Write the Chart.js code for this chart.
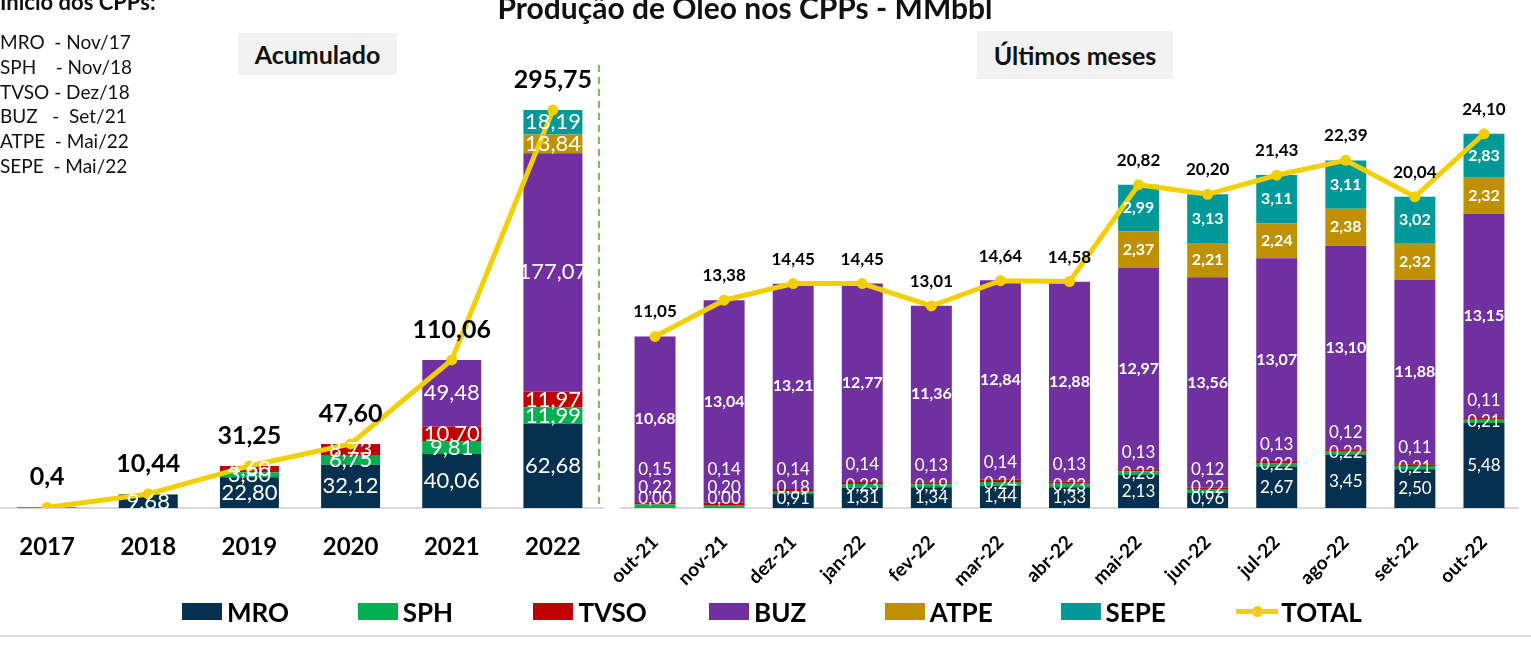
<!DOCTYPE html>
<html lang="pt-BR">
<head>
<meta charset="utf-8">
<title>Produção de Óleo nos CPPs - MMbbl</title>
<script src="https://cdn.jsdelivr.net/npm/chart.js@4.4.1/dist/chart.umd.min.js"></script>
<style>
  body { margin: 0; background: #fff; font-family: Lato, "Open Sans", sans-serif; }
  #page { position: relative; width: 1531px; height: 659px; overflow: hidden; }
  canvas { position: absolute; top: 0; }
  #cLeft { left: -9px; }
  #cRight { left: 560px; }
  #title { position: absolute; left: 0; width: 1490px; top: -8px; text-align: center;
           font-weight: bold; font-size: 30px; line-height: 30px; color: #111; }
  #inicio { position: absolute; left: 0; top: -10px; font-weight: bold; font-size: 22px; line-height: 24px; color: #111; }
  #startList { position: absolute; left: 0; top: 30px; font-size: 19px; line-height: 24.8px; color: #111; white-space: pre; }
  .box { position: absolute; background: #f2f2f2; font-weight: bold; font-size: 25px; color: #111;
         text-align: center; }
  #boxAcum { left: 238px; top: 33px; width: 159px; height: 42px; line-height: 42px; }
  #boxMeses { left: 977px; top: 31px; width: 196px; height: 48px; line-height: 48px; }
  .leg { position: absolute; top: 597px; height: 30px; font-weight: bold; font-size: 26px; line-height: 30px; color: #000; }
  .leg .sw { position: absolute; left: 0; top: 6px; width: 40px; height: 17px; }
  .leg .ln { position: absolute; left: 0; top: 12px; width: 42px; height: 5px; background: #F4CF00; }
  .leg .dot { position: absolute; left: 16px; top: 9px; width: 11px; height: 11px; border-radius: 50%; background: #F4CF00; }
  .leg .tx { position: absolute; left: 45px; top: 0; white-space: nowrap; }
  #bottomLine { position: absolute; left: 0; top: 635px; width: 1531px; height: 2px; background: #d9d9d9; }
</style>
</head>
<body>
<div id="page">
  <canvas id="cLeft" width="618" height="659"></canvas>
  <canvas id="cRight" width="971" height="659"></canvas>
  <div id="title">Produção de Óleo nos CPPs - MMbbl</div>
  <div id="inicio">Início dos CPPs:</div>
  <div id="startList"></div>
  <div class="box" id="boxAcum">Acumulado</div>
  <div class="box" id="boxMeses">Últimos meses</div>
  <div id="legend"></div>
  <div id="bottomLine"></div>
</div>
<script>
// --- dados ---
var seriesNames = ['MRO', 'SPH', 'TVSO', 'BUZ', 'ATPE', 'SEPE'];
var seriesColors = ['#05304F', '#00B050', '#C00000', '#7030A0', '#BF9000', '#00999A'];
var totalColor = '#F4CF00';

var startNames = ['MRO  ', 'SPH    ', 'TVSO ', 'BUZ   ', 'ATPE  ', 'SEPE  '];
var startDates = ['- Nov/17', '- Nov/18', '- Dez/18', '-  Set/21', '- Mai/22', '- Mai/22'];

// acumulado por ano
var years = ['2017', '2018', '2019', '2020', '2021', '2022'];
var acumMRO  = [0.4, 9.68, 22.80, 32.12, 40.06, 62.68];
var acumSPH  = [null, 0.42, 3.80, 6.75, 9.81, 11.99];
var acumTVSO = [null, 0.34, 4.60, 8.73, 10.70, 11.97];
var acumBUZ  = [null, null, null, null, 49.48, 177.07];
var acumATPE = [null, null, null, null, null, 13.84];
var acumSEPE = [null, null, null, null, null, 18.19];
var acumTotal = [0.4, 10.44, 31.25, 47.60, 110.06, 295.75];

// ultimos meses
var months = ['out-21', 'nov-21', 'dez-21', 'jan-22', 'fev-22', 'mar-22', 'abr-22',
              'mai-22', 'jun-22', 'jul-22', 'ago-22', 'set-22', 'out-22'];
var mesMRO  = [0.00, 0.00, 0.91, 1.31, 1.34, 1.44, 1.33, 2.13, 0.96, 2.67, 3.45, 2.50, 5.48];
var mesSPH  = [0.22, 0.20, 0.18, 0.23, 0.19, 0.24, 0.23, 0.23, 0.22, 0.22, 0.22, 0.21, 0.21];
var mesTVSO = [0.15, 0.14, 0.14, 0.14, 0.13, 0.14, 0.13, 0.13, 0.12, 0.13, 0.12, 0.11, 0.11];
var mesBUZ  = [10.68, 13.04, 13.21, 12.77, 11.36, 12.84, 12.88, 12.97, 13.56, 13.07, 13.10, 11.88, 13.15];
var mesATPE = [null, null, null, null, null, null, null, 2.37, 2.21, 2.24, 2.38, 2.32, 2.32];
var mesSEPE = [null, null, null, null, null, null, null, 2.99, 3.13, 3.11, 3.11, 3.02, 2.83];
var mesTotal = [11.05, 13.38, 14.45, 14.45, 13.01, 14.64, 14.58, 20.82, 20.20, 21.43, 22.39, 20.04, 24.10];

// --- textos fora do grafico ---
document.getElementById('startList').textContent =
  startNames.map(function(n, i) { return n + startDates[i]; }).join('\n');

var legend = document.getElementById('legend');
seriesNames.concat(['TOTAL']).forEach(function(name, i) {
  var d = document.createElement('div');
  d.className = 'leg';
  d.style.left = (182 + i * 175.7) + 'px';
  if (name === 'TOTAL') {
    d.innerHTML = '<span class="ln"></span><span class="dot"></span><span class="tx">' + name + '</span>';
  } else {
    d.innerHTML = '<span class="sw" style="background:' + seriesColors[i] + '"></span><span class="tx">' + name + '</span>';
  }
  legend.appendChild(d);
});

function fmt(v, dec) {
  return v.toFixed(dec).replace('.', ',');
}

// rotulos das barras e do total
function makeLabels(cfg) {
  return {
    id: 'segLabels',
    afterDatasetsDraw: function(chart) {
      var ctx = chart.ctx;
      var base = chart.scales.y.getPixelForValue(0);
      var lastY = [];
      ctx.save();
      ctx.textAlign = 'center';
      chart.data.datasets.forEach(function(ds, di) {
        var meta = chart.getDatasetMeta(di);
        if (ds.type === 'line') {
          ctx.font = cfg.totalFont;
          ctx.fillStyle = '#000';
          ctx.textBaseline = 'alphabetic';
          meta.data.forEach(function(pt, i) {
            var v = ds.data[i];
            ctx.fillText(fmt(v, v < 1 ? 1 : 2), pt.x, pt.y - cfg.totalGap);
          });
          return;
        }
        var rule = cfg.rules[ds.label] || 'center';
        ctx.font = cfg.fonts[ds.label] || cfg.font;
        ctx.fillStyle = '#fff';
        ctx.textBaseline = 'middle';
        meta.data.forEach(function(bar, i) {
          var v = ds.data[i];
          if (v == null || v < cfg.minValue) return;
          var c = (bar.y + bar.base) / 2;
          var y = c;
          if (rule === 'floor') y = Math.min(c, base - 9);
          else if (rule === 'stackUp') y = Math.min(c, lastY[i] - 11);
          else if (rule === 'lift') y = Math.min(c - 18, lastY[i] - 18);
          lastY[i] = y;
          ctx.fillText(fmt(v, 2), bar.x, y);
        });
      });
      ctx.restore();
      if (cfg.separatorX) {
        ctx.save();
        ctx.strokeStyle = '#7DBF55';
        ctx.lineWidth = 2;
        ctx.setLineDash([7, 5]);
        ctx.beginPath();
        ctx.moveTo(cfg.separatorX, 65);
        ctx.lineTo(cfg.separatorX, base);
        ctx.stroke();
        ctx.restore();
      }
    }
  };
}

function buildDatasets(parts, total, barPct) {
  var ds = seriesNames.map(function(name, i) {
    return {
      type: 'bar', label: name, data: parts[i], backgroundColor: seriesColors[i],
      borderWidth: 0, stack: 'cpp', order: 1,
      barPercentage: barPct, categoryPercentage: 1
    };
  });
  ds.push({
    type: 'line', label: 'TOTAL', data: total, stack: 'total', order: 0,
    borderColor: totalColor, backgroundColor: totalColor, borderWidth: 5,
    pointRadius: 5.5, pointBorderWidth: 0, pointBackgroundColor: totalColor,
    tension: 0, fill: false
  });
  return ds;
}

function baseOptions(yMax, tickFont, tickPad, rotation, pad) {
  return {
    responsive: false,
    animation: false,
    devicePixelRatio: 1,
    layout: { padding: pad },
    plugins: { legend: { display: false }, tooltip: { enabled: false } },
    scales: {
      x: {
        stacked: true,
        grid: { display: false },
        border: { color: '#d9d9d9', width: 2 },
        ticks: { font: tickFont, color: '#000', padding: tickPad, autoSkip: false,
                 maxRotation: rotation, minRotation: rotation },
        afterFit: function(scale) { scale.height = 151; }
      },
      y: { stacked: true, display: false, min: 0, max: yMax }
    }
  };
}

new Chart(document.getElementById('cLeft').getContext('2d'), {
  data: {
    labels: years,
    datasets: buildDatasets([acumMRO, acumSPH, acumTVSO, acumBUZ, acumATPE, acumSEPE], acumTotal, 0.583)
  },
  options: baseOptions(373.5, { family: 'Lato', size: 24, weight: 'bold' }, 17, 0,
                       { left: 0, right: 0, top: 0, bottom: 0 }),
  plugins: [makeLabels({
    font: '22px Lato', fonts: {}, rules: {}, minValue: 1,
    totalFont: 'bold 25px Lato', totalGap: 22, separatorX: 608
  })]
});

new Chart(document.getElementById('cRight').getContext('2d'), {
  data: {
    labels: months,
    datasets: buildDatasets([mesMRO, mesSPH, mesTVSO, mesBUZ, mesATPE, mesSEPE], mesTotal, 0.593)
  },
  options: baseOptions(32.36, { family: 'Lato', size: 19, weight: 'bold' }, 15, 45,
                       { left: 60.5, right: 12.5, top: 0, bottom: 0 }),
  plugins: [makeLabels({
    font: '17px Lato',
    fonts: { BUZ: 'bold 16px Lato', ATPE: 'bold 16px Lato', SEPE: 'bold 16px Lato' },
    rules: { MRO: 'floor', SPH: 'stackUp', TVSO: 'lift' },
    minValue: 0, totalFont: 'bold 17px Lato', totalGap: 19, separatorX: 0
  })]
});
</script>
</body>
</html>
